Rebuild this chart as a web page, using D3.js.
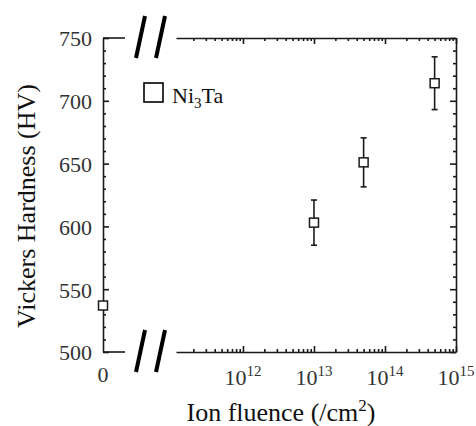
<!DOCTYPE html>
<html>
<head>
<meta charset="utf-8">
<script src="https://cdn.jsdelivr.net/npm/d3@7"></script>
<style>
  body { margin: 0; background: #fff; }
  svg { display: block; }
</style>
</head>
<body>
<div id="chart"></div>
<script>
// measured data, Ni3Ta
var fluence = [1e13, 5e13, 5e14];
var hardness = [603, 651, 714];
var hardnessErr = [18, 19.5, 21];
// unirradiated sample sits at fluence 0 on the left side of the break
var hardnessZero = 537;
var yTicks = [500, 550, 600, 650, 700, 750];
var xDecades = [1e12, 1e13, 1e14, 1e15];
var seriesName = "Ni3Ta";

var width = 476, height = 426;
var ink = "#1a1a1a";
var fontFamily = "'Liberation Serif', 'Times New Roman', serif";

var svg = d3.select("#chart").append("svg")
    .attr("width", width)
    .attr("height", height);

var y = d3.scaleLinear().domain([500, 750]).range([352, 38]);
var x = d3.scaleLog().domain([1.14e11, 1e15]).range([176, 456]);
var xZero = 103, xZeroEnd = 125;

// left (zero) segment
var gLeft = svg.append("g").attr("transform", "translate(" + xZero + ",0)");
gLeft.call(d3.axisLeft(y)
    .tickValues(d3.range(500, 751, 10))
    .tickSizeInner(-3).tickSizeOuter(0).tickPadding(11)
    .tickFormat(function(d) { return yTicks.indexOf(d) >= 0 ? d : ""; }));
gLeft.selectAll(".tick line").attr("x2", function(d) { return yTicks.indexOf(d) >= 0 ? 6 : 3; });
gLeft.selectAll(".tick text").attr("dy", "0.36em");

// right axis
var gRight = svg.append("g").attr("transform", "translate(" + x.range()[1] + ",0)");
gRight.call(d3.axisRight(y)
    .tickValues(d3.range(500, 751, 10))
    .tickSizeInner(-3).tickSizeOuter(0)
    .tickFormat(""));
gRight.selectAll(".tick line").attr("x2", function(d) { return yTicks.indexOf(d) >= 0 ? -6 : -3; });

// log ticks
var logTicks = x.ticks().filter(function(d) { return d >= x.domain()[0]; });
function isMajor(d) { return xDecades.indexOf(d) >= 0; }

var gBottom = svg.append("g").attr("transform", "translate(0," + y(500) + ")");
gBottom.call(d3.axisBottom(x).tickValues(logTicks).tickSizeInner(-3).tickSizeOuter(0).tickFormat(""));
gBottom.selectAll(".tick line").attr("y2", function(d) { return isMajor(d) ? -6 : -3; });

var gTop = svg.append("g").attr("transform", "translate(0," + y(750) + ")");
gTop.call(d3.axisTop(x).tickValues(logTicks).tickSizeInner(-3).tickSizeOuter(0).tickFormat(""));
gTop.selectAll(".tick line").attr("y2", function(d) { return isMajor(d) ? 6 : 3; });

// short horizontal stubs of the zero segment
[500, 750].forEach(function(v) {
  svg.append("line")
      .attr("x1", xZero).attr("x2", xZeroEnd)
      .attr("y1", y(v)).attr("y2", y(v));
});

svg.selectAll(".domain, .tick line, line")
    .attr("stroke", ink).attr("stroke-width", 1.6);
svg.selectAll(".tick text")
    .attr("font-family", fontFamily).attr("font-size", 22).attr("fill", "#333");

// break marks
var breakGap = [136, 156];
[500, 750].forEach(function(v) {
  breakGap.forEach(function(bx) {
    svg.append("line")
        .attr("x1", bx).attr("y1", y(v) + 20)
        .attr("x2", bx + 9).attr("y2", y(v) - 22)
        .attr("stroke", "#000").attr("stroke-width", 4);
  });
});

// x tick labels
svg.append("text")
    .attr("x", xZero).attr("y", 382)
    .attr("text-anchor", "middle")
    .attr("font-family", fontFamily).attr("font-size", 22).attr("fill", "#333")
    .text("0");

var decLabel = svg.selectAll(".declabel").data(xDecades).enter().append("text")
    .attr("class", "declabel")
    .attr("x", function(d) { return x(d); })
    .attr("y", 385)
    .attr("text-anchor", "middle")
    .attr("font-family", fontFamily).attr("font-size", 22).attr("fill", "#333");
decLabel.append("tspan").text("10");
decLabel.append("tspan").attr("font-size", 15).attr("dy", -9)
    .text(function(d) { return Math.round(Math.log10(d)); });

// error bars
var pts = fluence.map(function(f, i) { return {x: x(f), v: hardness[i], e: hardnessErr[i]}; });
var capW = 3;
var eb = svg.append("g").attr("stroke", ink).attr("stroke-width", 1.6);
pts.forEach(function(p) {
  eb.append("line").attr("x1", p.x).attr("x2", p.x).attr("y1", y(p.v - p.e)).attr("y2", y(p.v + p.e));
  eb.append("line").attr("x1", p.x - capW).attr("x2", p.x + capW).attr("y1", y(p.v - p.e)).attr("y2", y(p.v - p.e));
  eb.append("line").attr("x1", p.x - capW).attr("x2", p.x + capW).attr("y1", y(p.v + p.e)).attr("y2", y(p.v + p.e));
});

// markers
var mk = 9;
var allPts = [{x: xZero, v: hardnessZero}].concat(pts);
svg.selectAll(".pt").data(allPts).enter().append("rect")
    .attr("class", "pt")
    .attr("x", function(d) { return d.x - mk / 2; })
    .attr("y", function(d) { return y(d.v) - mk / 2; })
    .attr("width", mk).attr("height", mk)
    .attr("fill", "#fff").attr("stroke", ink).attr("stroke-width", 1.5);

// legend
svg.append("rect")
    .attr("x", 144).attr("y", 83).attr("width", 19).attr("height", 19)
    .attr("fill", "#fff").attr("stroke", "#000").attr("stroke-width", 1.6);
var leg = svg.append("text")
    .attr("x", 172).attr("y", 103)
    .attr("font-family", fontFamily).attr("font-size", 22).attr("fill", "#111");
leg.append("tspan").text("Ni");
leg.append("tspan").attr("font-size", 15).attr("dy", 5).text("3");
leg.append("tspan").attr("dy", -5).text("Ta");

// axis titles
svg.append("text")
    .attr("transform", "translate(35," + 206 + ") rotate(-90)")
    .attr("text-anchor", "middle")
    .attr("font-family", fontFamily).attr("font-size", 26).attr("fill", "#111")
    .text("Vickers Hardness (HV)");

var xt = svg.append("text")
    .attr("x", 281).attr("y", 421)
    .attr("text-anchor", "middle")
    .attr("font-family", fontFamily).attr("font-size", 26).attr("fill", "#111");
xt.append("tspan").text("Ion fluence (/cm");
xt.append("tspan").attr("font-size", 17).attr("dy", -10).text("2");
xt.append("tspan").attr("dy", 10).text(")");
</script>
</body>
</html>
